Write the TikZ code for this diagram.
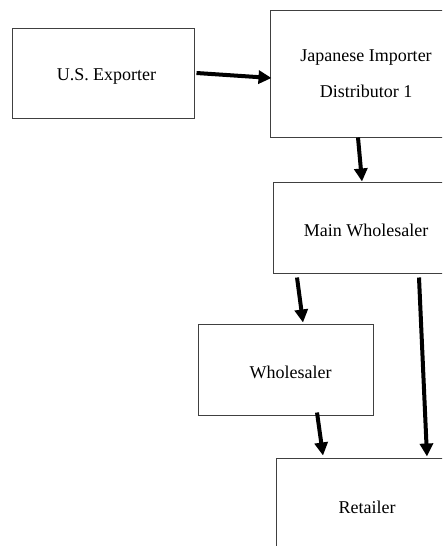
\documentclass[tikz,border=0pt]{standalone}
\usepackage{fontspec}
\setmainfont{Liberation Serif}
\usetikzlibrary{arrows.meta,calc}
\tikzset{
  box/.style={draw=black!75, line width=1pt, rectangle, inner sep=0pt, align=center,
    font=\fontsize{18}{36}\selectfont},
  flow/.style={line width=4pt, -{Triangle[length=13pt,width=13pt]}}
}
\newcommand{\lowertext}[1]{\raisebox{-3pt}[\height][\depth]{#1}}
\begin{document}
\begin{tikzpicture}[x=1pt,y=-1pt]
\useasboundingbox (0,0) rectangle (442,546);
\clip (0,0) rectangle (442,546);
\node[box, minimum width=182pt, minimum height=90pt] (us) at (103,73) {\hspace*{7pt}\lowertext{U.S. Exporter}};
\node[box, minimum width=192pt, minimum height=127pt] (ji) at (366,73.5) {Japanese Importer\\Distributor 1};
\node[box, minimum width=186pt, minimum height=91pt] (mw) at (366,227.5) {\lowertext{Main Wholesaler}};
\node[box, minimum width=175pt, minimum height=91pt] (wh) at (285.5,369.5) {\hspace*{10pt}\lowertext{Wholesaler}};
\node[box, minimum width=182pt, minimum height=98pt] (rt) at (367,507) {Retailer};
\draw[flow] ($(us.east)+(2,0)$) -- ($(ji.west)+(2,4.5)$);
\draw[flow] ($(ji.south)+(-8,0)$) -- ($(mw.north)+(-4,0)$);
\draw[flow] ($(mw.south)+(-69,4)$) -- ($(wh.north)+(17.5,-1)$);
\draw[flow] ($(mw.south)+(53,4)$) -- ($(rt.north)+(60,-1)$);
\draw[flow] ($(wh.south)+(31.5,-3)$) -- ($(rt.north)+(-44,-2)$);
\end{tikzpicture}
\end{document}
